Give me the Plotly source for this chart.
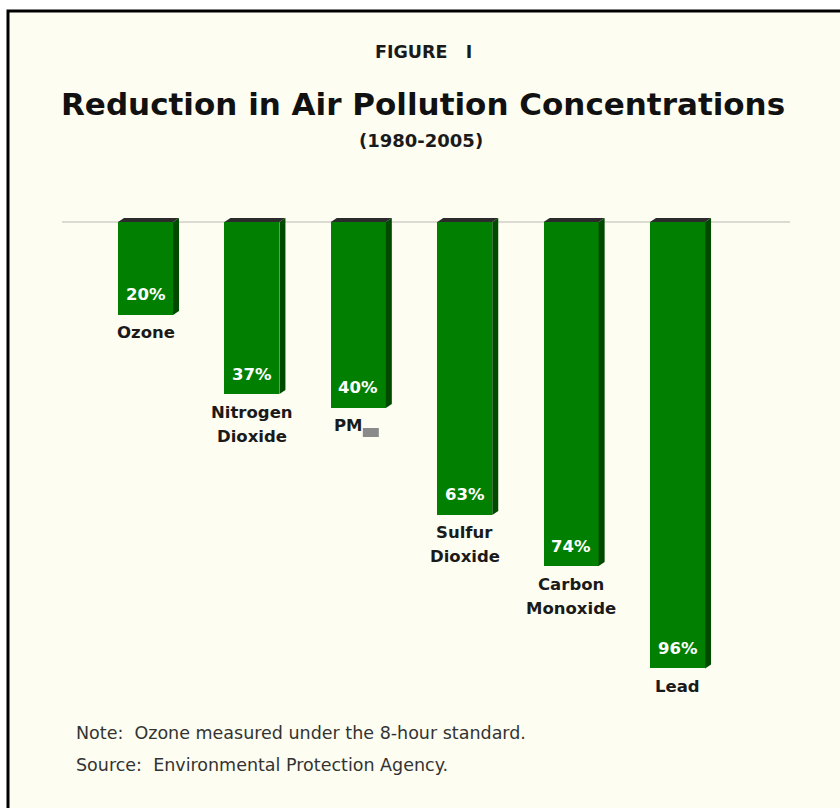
import plotly.graph_objects as go

# ---- data ----
categories = ["Ozone", "Nitrogen\nDioxide", "PM", "Sulfur\nDioxide", "Carbon\nMonoxide", "Lead"]
reductions = [20, 37, 40, 63, 74, 96]
value_labels = ["20%", "37%", "40%", "63%", "74%", "96%"]

NB = "\u00a0"
fig_label = "FIGURE" + NB * 3 + "I"
title = "Reduction in Air Pollution Concentrations"
subtitle = "(1980-2005)"
note = "Note:" + NB * 2 + "Ozone measured under the 8-hour standard."
source = "Source:" + NB * 2 + "Environmental Protection Agency."

# ---- layout geometry ----
W, H = 840, 808
L, R = 62, 50
T, B = 215, 121
PW = W - L - R
PH = H - T - B
YMIN, YMAX = -100, 1.5
XMIN, XMAX = -0.785, 6.057
px_per_x = PW / (XMAX - XMIN)
px_per_y = PH / (YMAX - YMIN)

def pxx(px):
    return (px - L) / PW

def pxy(py):
    return (H - B - py) / PH

GREEN = "#007f00"
SIDE = "#004a00"
TOP = "#2b2b2b"
CREAM = "#fdfdf1"
BW = 0.517
dx = 6 / px_per_x
dy = 4 / px_per_y

BOLD = "DejaVu Sans"
xs = list(range(len(categories)))
yvals = [-v for v in reductions]

fig = go.Figure()
fig.add_trace(go.Bar(
    x=xs, y=yvals, width=BW,
    marker=dict(color=GREEN, line=dict(width=0)),
    hoverinfo="skip", showlegend=False,
))

shapes = []
# frame
shapes.append(dict(type="rect", xref="paper", yref="paper",
                   x0=pxx(8), x1=pxx(900), y0=pxy(11), y1=pxy(900),
                   fillcolor=CREAM, line=dict(color="black", width=3), layer="below"))
# baseline
shapes.append(dict(type="line", xref="paper", yref="y", x0=0, x1=1, y0=0, y1=0,
                   line=dict(color="#cfcfc8", width=1.5), layer="below"))
for x, y in zip(xs, yvals):
    xl, xr = x - BW / 2, x + BW / 2
    # side face
    shapes.append(dict(type="path", xref="x", yref="y",
                       path=f"M{xr},0 L{xr+dx},{dy} L{xr+dx},{y+dy} L{xr},{y} Z",
                       fillcolor=SIDE, line=dict(width=0), layer="above"))
    # top face
    shapes.append(dict(type="path", xref="x", yref="y",
                       path=f"M{xl},0 L{xl+dx},{dy} L{xr+dx},{dy} L{xr},0 Z",
                       fillcolor=TOP, line=dict(width=0), layer="above"))

annotations = []
for x, y, lab, cat in zip(xs, yvals, value_labels, categories):
    annotations.append(dict(x=x, y=y, xref="x", yref="y", text=f"<b>{lab}</b>",
                            showarrow=False, xanchor="center", yanchor="middle", yshift=20,
                            font=dict(family=BOLD, size=16.5, color="white")))
    lines = cat.split("\n")
    for k, line in enumerate(lines):
        xshift = -10 if line == "PM" else 0
        annotations.append(dict(x=x, y=y, xref="x", yref="y", text=f"<b>{line}</b>",
                                showarrow=False, xanchor="center", yanchor="middle",
                                yshift=-(18 + 24 * k), xshift=xshift,
                                font=dict(family=BOLD, size=16.5, color="#1a1a1a")))
    if cat == "PM":
        shapes.append(dict(type="rect", xref="x", yref="y",
                           x0=x + 4.5 / px_per_x, x1=x + 20.5 / px_per_x,
                           y0=y - 20 / px_per_y, y1=y - 29 / px_per_y,
                           fillcolor="#8a8a8a", line=dict(width=0)))

annotations += [
    dict(x=pxx(423), y=pxy(52), xref="paper", yref="paper", text=f"<b>{fig_label}</b>",
         showarrow=False, xanchor="center", yanchor="middle",
         font=dict(family=BOLD, size=17.5, color="#1a1a1a")),
    dict(x=pxx(423), y=pxy(104), xref="paper", yref="paper", text=f"<b>{title}</b>",
         showarrow=False, xanchor="center", yanchor="middle",
         font=dict(family=BOLD, size=31, color="#111111")),
    dict(x=pxx(421), y=pxy(140), xref="paper", yref="paper", text=f"<b>{subtitle}</b>",
         showarrow=False, xanchor="center", yanchor="middle",
         font=dict(family=BOLD, size=18, color="#1a1a1a")),
    dict(x=pxx(74), y=pxy(733), xref="paper", yref="paper", text=note,
         showarrow=False, xanchor="left", yanchor="middle",
         font=dict(family="DejaVu Sans", size=17.5, color="#333333")),
    dict(x=pxx(74), y=pxy(765), xref="paper", yref="paper", text=source,
         showarrow=False, xanchor="left", yanchor="middle",
         font=dict(family="DejaVu Sans", size=17.5, color="#333333")),
]

fig.update_layout(
    width=W, height=H,
    margin=dict(l=L, r=R, t=T, b=B, pad=0),
    paper_bgcolor="white",
    plot_bgcolor="rgba(0,0,0,0)",
    xaxis=dict(range=[XMIN, XMAX], visible=False, fixedrange=True),
    yaxis=dict(range=[YMIN, YMAX], visible=False, fixedrange=True),
    shapes=shapes,
    annotations=annotations,
    bargap=0,
    showlegend=False,
)

fig.write_html("out.html", config={"displayModeBar": False})
